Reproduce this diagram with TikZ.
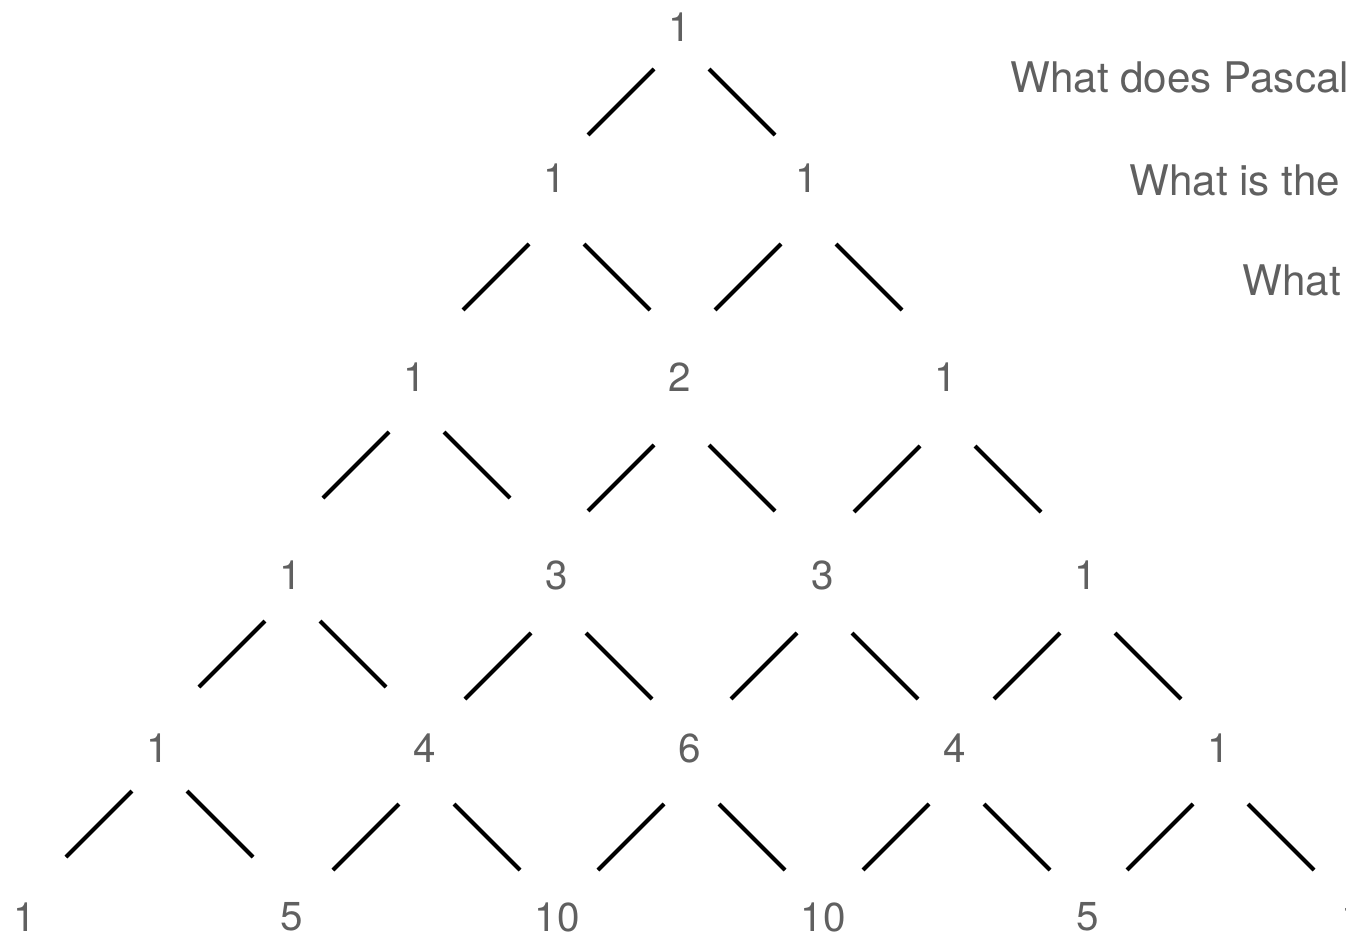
\documentclass[tikz,border=0pt]{standalone}
\usepackage{fontspec}
\setmainfont{TeX Gyre Heros}
\definecolor{numgray}{HTML}{606060}

\begin{document}
\begin{tikzpicture}[
    x=0.02cm, y=-0.02cm,
    num/.style={text=numgray, inner sep=0pt, font=\fontsize{23}{27}\selectfont},
    question/.style={text=numgray, inner sep=0pt, anchor=base west, font=\fontsize{24}{29}\selectfont},
    edge/.style={line width=2.3pt}
]
    \useasboundingbox (0,0) rectangle (1346,936);
    \clip (0,0) rectangle (1346,936);

    % Nodes
    \node[num] (r0a) at (680,27) {1};

    \node[num] (r1a) at (555,178) {1};
    \node[num] (r1b) at (807,178) {1};

    \node[num] (r2a) at (415,377) {1};
    \node[num] (r2b) at (680,377) {2};
    \node[num] (r2c) at (946,377) {1};

    \node[num] (r3a) at (291,575) {1};
    \node[num] (r3b) at (557,575) {3};
    \node[num] (r3c) at (823,575) {3};
    \node[num] (r3d) at (1086,575) {1};

    \node[num] (r4a) at (158,748) {1};
    \node[num] (r4b) at (425,748) {4};
    \node[num] (r4c) at (690,748) {6};
    \node[num] (r4d) at (955,748) {4};
    \node[num] (r4e) at (1219,748) {1};

    \node[num] (r5a) at (25,917) {1};
    \node[num] (r5b) at (292,917) {5};
    \node[num] (r5c) at (557,917) {10};
    \node[num] (r5d) at (823,917) {10};
    \node[num] (r5e) at (1088,917) {5};
    \node[num] (r5f) at (1353,917) {1};

    % Questions (cut off at the right edge)
    \node[question] (q1) at (1010,92) {What does Pascal};
    \node[question] (q2) at (1129,195) {What is the};
    \node[question] (q3) at (1242,295) {What};

    % Strokes below each number: node/drop
    \foreach \n/\d in {r0a/42, r1a/66, r1b/66, r2a/55, r2b/68, r2c/69,
                       r3a/46, r3b/58, r3c/58, r3d/58,
                       r4a/43, r4b/56, r4c/56, r4d/56, r4e/56} {
        \draw[edge] ([shift={(-26,\d)}]\n.center) -- ++(-66,66);
        \draw[edge] ([shift={(29,\d)}]\n.center) -- ++(66,66);
    }
\end{tikzpicture}
\end{document}
